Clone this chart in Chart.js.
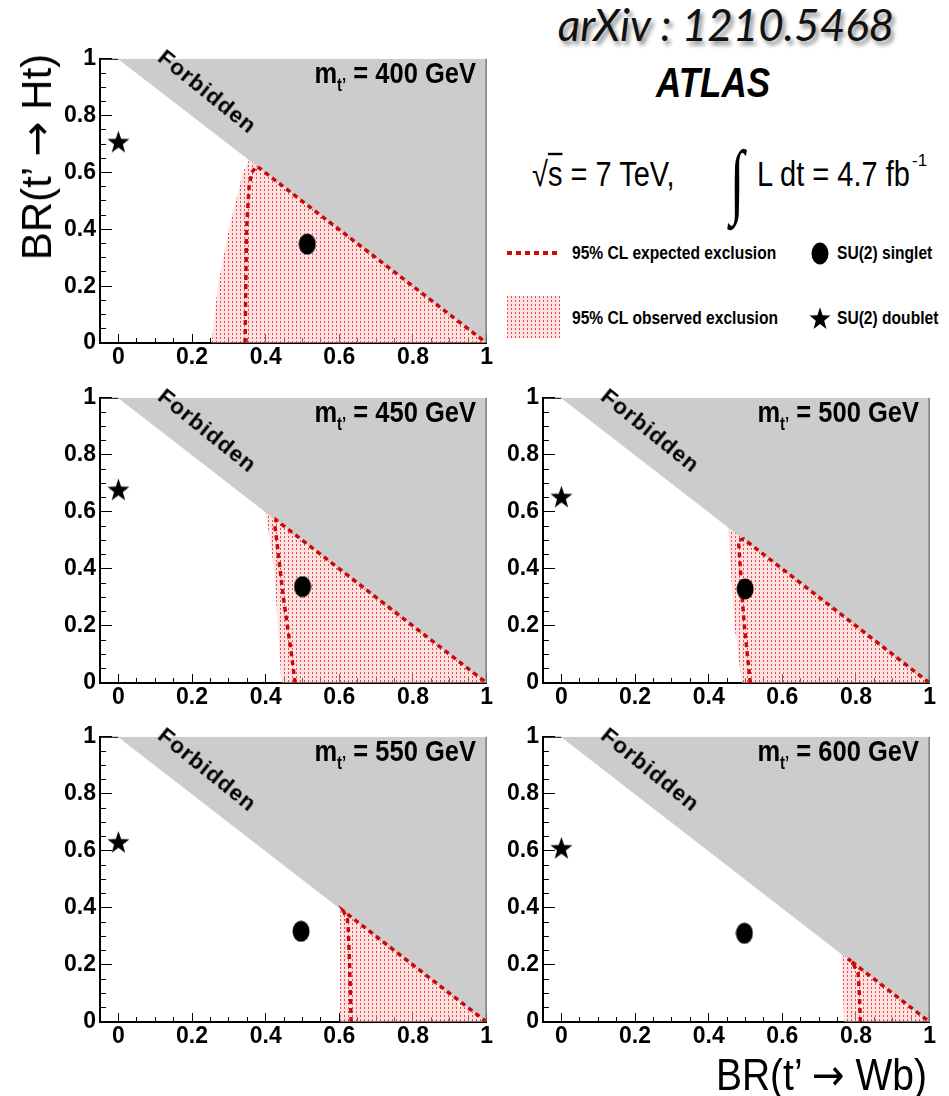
<!DOCTYPE html>
<html>
<head>
<meta charset="utf-8">
<script src="https://cdn.jsdelivr.net/npm/chart.js@4.4.0/dist/chart.umd.min.js"></script>
<style>
  html, body { margin: 0; padding: 0; background: #fff; }
  #page { position: relative; width: 949px; height: 1096px; overflow: hidden;
          font-family: "Liberation Sans", Arial, sans-serif; color: #000; }
  #page canvas { position: absolute; }
  .txt { position: absolute; white-space: nowrap; line-height: 1; }
  .bold { font-weight: bold; }
  .arr { font-family: "DejaVu Sans", sans-serif; }
</style>
</head>
<body>
<div id="page"></div>
<script>
// ---- data ----
const masses     = [400, 450, 500, 550, 600];
const singletX   = [0.513, 0.500, 0.499, 0.496, 0.497];
const singletY   = [0.348, 0.338, 0.330, 0.318, 0.311];
const doubletX   = [0, 0, 0, 0, 0];
const doubletY   = [0.709, 0.679, 0.654, 0.632, 0.611];
const forbiddenX = [0, 1, 1];
const forbiddenY = [1, 0, 1];

// expected exclusion contours [BR(Wb), BR(Ht)]
const expected400 = [[0.344, 0], [0.346, 0.2], [0.348, 0.4], [0.355, 0.55], [0.362, 0.6], [0.376, 0.622], [1, 0]];
const expected450 = [[0.480, 0], [0.468, 0.12], [0.459, 0.2], [0.448, 0.3], [0.439, 0.4], [0.430, 0.5], [0.425, 0.55], [0.428, 0.572], [1, 0]];
const expected500 = [[0.513, 0], [0.505, 0.1], [0.497, 0.2], [0.491, 0.3], [0.486, 0.4], [0.481, 0.5], [0.495, 0.505], [1, 0]];
const expected550 = [[0.632, 0], [0.628, 0.2], [0.624, 0.33], [0.622, 0.36], [0.611, 0.389], [1, 0]];
const expected600 = [[0.812, 0], [0.809, 0.1], [0.806, 0.17], [0.790, 0.21], [0.778, 0.222], [1, 0]];

// observed exclusion regions (closed along BR(Ht) = 0)
const observed400 = [[0.253, 0], [0.270, 0.2], [0.300, 0.4], [0.338, 0.6], [0.355, 0.645], [1, 0]];
const observed450 = [[0.443, 0], [0.433, 0.2], [0.423, 0.4], [0.400, 0.6], [1, 0]];
const observed500 = [[0.490, 0], [0.470, 0.2], [0.460, 0.4], [0.452, 0.548], [1, 0]];
const observed550 = [[0.602, 0], [0.602, 0.398], [1, 0]];
const observed600 = [[0.768, 0], [0.760, 0.24], [1, 0]];

const expectedCurves = [expected400, expected450, expected500, expected550, expected600];
const observedCurves = [observed400, observed450, observed500, observed550, observed600];

const majorTicks = [0, 0.2, 0.4, 0.6, 0.8, 1];
const minorStep  = 0.05;

// ---- layout ----
const AXIS_W = 60, AXIS_H = 36, PAD = 16;
const areas = [
  { l: 100, r: 487, t: 45,  b: 343 },
  { l: 100, r: 487, t: 384, b: 683 },
  { l: 543, r: 930, t: 384, b: 683 },
  { l: 100, r: 487, t: 723, b: 1022 },
  { l: 543, r: 930, t: 723, b: 1022 }
];
const RED = '#cc0808';
const page = document.getElementById('page');

const toXY = (pts) => pts.map(p => ({ x: p[0], y: p[1] }));
const isMajor = (v) => majorTicks.some(m => Math.abs(m - v) < 1e-6);
const allTicks = Array.from({ length: Math.round(1 / minorStep) + 1 }, (_, k) => +(k * minorStep).toFixed(2));

function makeHatchTile() {
  const c = document.createElement('canvas');
  c.width = 4; c.height = 4;
  const g = c.getContext('2d');
  g.fillStyle = 'rgba(255,200,200,0.5)';
  g.fillRect(0, 0, 4, 4);
  g.fillStyle = 'rgb(236,70,70)';
  g.fillRect(0, 0, 1, 2);
  return c;
}
function makeStar(w, h) {
  const c = document.createElement('canvas');
  c.width = w; c.height = h;
  const g = c.getContext('2d');
  const R = w / 2, r = R * 0.4;
  g.translate(w / 2, h / 2 + h * 0.05);
  g.scale(1, h / w);
  g.beginPath();
  for (let k = 0; k < 10; k++) {
    const a = -Math.PI / 2 + k * Math.PI / 5;
    const rad = k % 2 ? r : R;
    g.lineTo(rad * Math.cos(a), rad * Math.sin(a));
  }
  g.closePath();
  g.fillStyle = '#000';
  g.fill();
  return c;
}
function makeEllipse(w, h) {
  const c = document.createElement('canvas');
  c.width = w; c.height = h;
  const g = c.getContext('2d');
  g.beginPath();
  g.ellipse(w / 2, h / 2, w / 2 - 0.5, h / 2 - 0.5, 0, 0, Math.PI * 2);
  g.fillStyle = '#000';
  g.fill();
  return c;
}
const hatchTile = makeHatchTile();
const starImg = makeStar(23, 24);
const dotImg = makeEllipse(18, 22);

const framePlugin = {
  id: 'frame',
  beforeDatasetsDraw(chart) {
    const { ctx, chartArea: ca, scales } = chart;
    ctx.save();
    ctx.strokeStyle = '#000';
    ctx.lineWidth = 1;
    ctx.beginPath();
    ctx.moveTo(ca.left, ca.top + 0.5);
    ctx.lineTo(scales.x.getPixelForValue(0), ca.top + 0.5);
    ctx.stroke();
    ctx.restore();
  },
  afterDatasetsDraw(chart) {
    const { ctx, chartArea: ca } = chart;
    ctx.save();
    ctx.strokeStyle = '#555';
    ctx.lineWidth = 1;
    ctx.beginPath();
    ctx.moveTo(ca.right - 0.5, ca.top);
    ctx.lineTo(ca.right - 0.5, ca.bottom);
    ctx.stroke();
    ctx.restore();
  }
};

function axisOptions(isX) {
  return {
    type: 'linear',
    position: isX ? 'bottom' : 'left',
    min: isX ? -0.05 : 0,
    max: 1,
    z: 1,
    afterBuildTicks: (s) => { s.ticks = allTicks.map(v => ({ value: v })); },
    afterFit: (s) => { if (isX) s.height = AXIS_H; else s.width = AXIS_W; },
    border: { display: true, color: '#000', width: 2 },
    grid: {
      drawOnChartArea: false,
      drawTicks: true,
      tickLength: isX ? -9 : -12,
      tickColor: '#000',
      tickWidth: 1,
      tickBorderDash: (c) => isMajor(c.tick.value) ? [] : (isX ? [6, 20] : [6, 6]),
      tickBorderDashOffset: (c) => (isMajor(c.tick.value) || isX) ? 0 : 6
    },
    ticks: {
      autoSkip: false,
      maxRotation: 0,
      padding: isX ? 10 : 16,
      color: '#000',
      font: { family: '"Liberation Sans", Arial, sans-serif', weight: 'bold', size: 23 },
      callback: (v) => isMajor(v) ? String(+v.toFixed(2)) : ''
    }
  };
}

function addText(html, css, cls) {
  const d = document.createElement('div');
  d.className = 'txt ' + (cls || '');
  d.innerHTML = html;
  d.style.cssText += css;
  page.appendChild(d);
  return d;
}

function buildPanel(i) {
  const a = areas[i];
  const w = a.r - a.l + AXIS_W + PAD;
  const h = a.b - a.t + PAD + AXIS_H;
  const cv = document.createElement('canvas');
  cv.width = w; cv.height = h;
  cv.style.left = (a.l - AXIS_W) + 'px';
  cv.style.top = (a.t - PAD) + 'px';
  cv.style.width = w + 'px';
  cv.style.height = h + 'px';
  page.appendChild(cv);
  const pattern = cv.getContext('2d').createPattern(hatchTile, 'repeat');

  new Chart(cv, {
    type: 'line',
    data: {
      datasets: [
        { label: 'SU(2) singlet', data: [{ x: singletX[i], y: singletY[i] }], showLine: false,
          pointStyle: dotImg, pointRadius: 10 },
        { label: 'SU(2) doublet', data: [{ x: doubletX[i], y: doubletY[i] }], showLine: false,
          pointStyle: starImg, pointRadius: 10 },
        { label: '95% CL expected exclusion', data: toXY(expectedCurves[i]), borderColor: RED,
          borderWidth: 3.5, borderDash: [5, 4], pointRadius: 0, fill: false, tension: 0 },
        { label: 'Forbidden', data: forbiddenX.map((x, k) => ({ x, y: forbiddenY[k] })),
          borderColor: '#cccccc', borderWidth: 1, backgroundColor: '#cccccc', fill: 'shape',
          pointRadius: 0, tension: 0 },
        { label: '95% CL observed exclusion', data: toXY(observedCurves[i]),
          borderColor: 'rgba(0,0,0,0)', borderWidth: 1, backgroundColor: pattern, fill: 'shape',
          pointRadius: 0, tension: 0 }
      ]
    },
    options: {
      responsive: false,
      animation: false,
      events: [],
      layout: { padding: { left: 0, top: PAD, right: PAD, bottom: 0 } },
      plugins: { legend: { display: false }, tooltip: { enabled: false } },
      scales: { x: axisOptions(true), y: axisOptions(false) }
    },
    plugins: [framePlugin]
  });

  addText('Forbidden',
    `left:${a.l + 107}px;top:${a.t + 46.5}px;font-size:22.5px;letter-spacing:1px;` +
    `transform:translate(-50%,-50%) rotate(38.9deg);`, 'bold');
  addText(`m<span style="font-size:15px;position:relative;top:7px;">t’</span> = ${masses[i]} GeV`,
    `right:${949 - (a.r - 11)}px;top:${a.t + 27.5}px;font-size:25.5px;` +
    `transform:translateY(-50%) scaleY(1.17);transform-origin:right center;`, 'bold');
}

areas.forEach((_, i) => buildPanel(i));

// axis titles
addText('BR(t’ <span class="arr">→</span> Ht)', 'left:37px;top:157px;font-size:42px;transform:translate(-50%,-50%) rotate(-90deg);');
addText('BR(t’ <span class="arr">→</span> Wb)', 'right:22px;top:1075px;font-size:39px;transform:translateY(-50%) scaleY(1.12);transform-origin:right center;');

// header block
addText('arXiv : 1210.5468',
  'left:726px;top:24px;font-family:Lato,"Open Sans",sans-serif;font-style:italic;font-size:44px;color:#111;' +
  'transform:translate(-50%,-50%);text-shadow:3px 4px 4px rgba(0,0,0,0.45);');
addText('ATLAS', 'left:713px;top:82px;font-size:35px;font-style:italic;transform:translate(-50%,-50%) scaleY(1.2);', 'bold');
addText('√<span style="text-decoration:overline;">s</span> = 7 TeV,',
  'left:532px;top:175px;font-size:29px;transform:translateY(-50%) scaleY(1.2);transform-origin:left center;');
addText('∫', 'left:737px;top:181px;font-size:52px;font-family:"Liberation Serif",serif;' +
  'transform:translate(-50%,-50%) scaleY(1.6);');
addText('L dt = 4.7 fb', 'left:757px;top:175px;font-size:29px;transform:translateY(-50%) scaleY(1.2);transform-origin:left center;');
addText('-1', 'left:912px;top:160px;font-size:17px;transform:translateY(-50%);');

// legend
const legendRows = [253, 318];
const lineSample = document.createElement('div');
lineSample.style.cssText = `position:absolute;left:507px;top:${legendRows[0] - 2}px;width:53px;height:4px;` +
  `background:repeating-linear-gradient(90deg, ${RED} 0 5px, transparent 5px 9px);`;
page.appendChild(lineSample);
const hatchSample = document.createElement('div');
hatchSample.style.cssText = `position:absolute;left:507px;top:${legendRows[1] - 22}px;width:53px;height:42px;` +
  `background-image:url(${hatchTile.toDataURL()});`;
page.appendChild(hatchSample);
const dotSample = makeEllipse(18, 23);
dotSample.style.left = (820 - 9) + 'px';
dotSample.style.top = (legendRows[0] - 11.5) + 'px';
page.appendChild(dotSample);
const starSample = makeStar(22, 24);
starSample.style.left = (820 - 11) + 'px';
starSample.style.top = (legendRows[1] - 12) + 'px';
page.appendChild(starSample);

const legendCss = 'font-size:15.6px;transform:translateY(-50%) scaleY(1.15);transform-origin:left center;';
addText('95% CL expected exclusion', `left:572px;top:${legendRows[0]}px;` + legendCss, 'bold');
addText('95% CL observed exclusion', `left:572px;top:${legendRows[1]}px;` + legendCss, 'bold');
addText('SU(2) singlet', `left:837px;top:${legendRows[0]}px;` + legendCss, 'bold');
addText('SU(2) doublet', `left:837px;top:${legendRows[1]}px;` + legendCss, 'bold');
</script>
</body>
</html>
